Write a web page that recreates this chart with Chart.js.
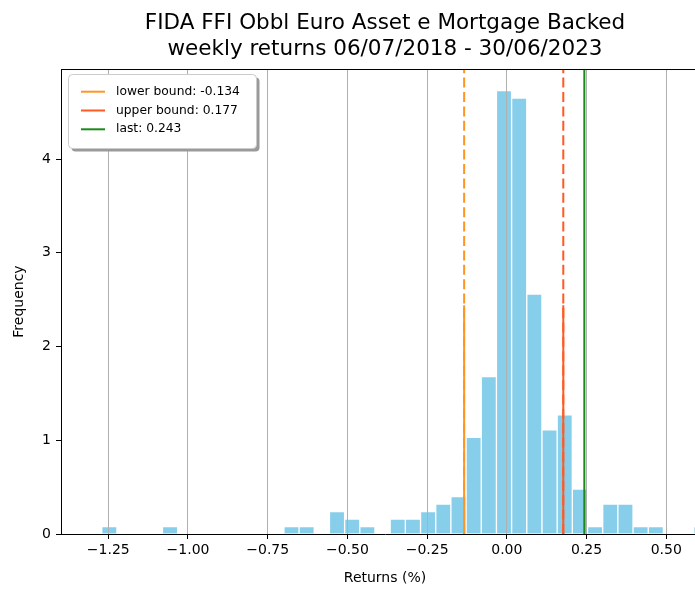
<!DOCTYPE html>
<html>
<head>
<meta charset="utf-8">
<script src="https://cdn.jsdelivr.net/npm/chart.js@4"></script>
<style>
html,body{margin:0;padding:0;overflow:hidden;background:#fff;width:695px;height:589px}
#wrap{width:770px;height:589px}
</style>
</head>
<body>
<div id="wrap"><canvas id="c" width="770" height="589"></canvas></div>
<script>
// ---- data ----
const binCenters = [
  -1.2467, -1.1991, -1.1515, -1.1039, -1.0563, -1.0087, -0.9611, -0.9135, -0.8659, -0.8182,
  -0.7706, -0.7230, -0.6754, -0.6278, -0.5802, -0.5326, -0.4850, -0.4374, -0.3898, -0.3421,
  -0.2945, -0.2469, -0.1993, -0.1517, -0.1041, -0.0565, -0.0089, 0.0387, 0.0863, 0.1340,
  0.1816, 0.2292, 0.2768, 0.3244, 0.3720, 0.4196, 0.4672, 0.5148, 0.5624, 0.6101
];
const frequency = [
  0.08, 0, 0, 0, 0.08, 0, 0, 0, 0, 0,
  0, 0, 0.08, 0.08, 0, 0.24, 0.16, 0.08, 0, 0.16,
  0.16, 0.24, 0.32, 0.40, 1.03, 1.68, 4.73, 4.65, 2.56, 1.11,
  1.27, 0.48, 0.08, 0.32, 0.32, 0.08, 0.08, 0, 0, 0.08
];
const xTickValues = [-1.25, -1.0, -0.75, -0.5, -0.25, 0, 0.25, 0.5];
const xTickLabels = ['\u22121.25', '\u22121.00', '\u22120.75', '\u22120.50', '\u22120.25', '0.00', '0.25', '0.50'];
const yTickValues = [0, 1, 2, 3, 4];
const yTickLabels = ['0', '1', '2', '3', '4'];
const lowerBound = -0.134;
const upperBound = 0.177;
const lastValue = 0.243;
const boundSolidTop = 2.44;
const xRange = [-1.3983, 0.634];
const yRange = [0, 4.96];
const legendLabels = ['lower bound: -0.134', 'upper bound: 0.177', 'last: 0.243'];
const titleLines = ['FIDA FFI Obbl Euro Asset e Mortgage Backed', 'weekly returns 06/07/2018 - 30/06/2023'];

// ---- styles ----
const C_BAR = '#87ceeb';
const C_LOW = '#ff9522';
const C_UP = '#ff5a24';
const C_LAST = '#1a8a1a';

Chart.defaults.font.family = "'DejaVu Sans', sans-serif";
Chart.defaults.color = '#000';

function vline(x, yTop, color, dash, label) {
  return {
    type: 'line',
    label: label || '',
    inLegend: !!label,
    data: [{x: x, y: 0}, {x: x, y: yTop}],
    borderColor: color,
    backgroundColor: color,
    borderWidth: 2,
    borderDash: dash || [],
    borderCapStyle: 'butt',
    pointRadius: 0,
    fill: false,
    order: 1
  };
}

const framePlugin = {
  id: 'frame',
  afterDraw(chart) {
    const ctx = chart.ctx, a = chart.chartArea;
    ctx.save();
    // top spine
    ctx.strokeStyle = '#000';
    ctx.lineWidth = 1;
    ctx.beginPath();
    ctx.moveTo(a.left, a.top + 0.5);
    ctx.lineTo(a.right, a.top + 0.5);
    ctx.stroke();
    // legend box
    const bx = 68.5, by = 74.5, bw = 188, bh = 74, r = 4;
    const rr = (x, y, w, h) => {
      ctx.beginPath();
      ctx.moveTo(x + r, y);
      ctx.arcTo(x + w, y, x + w, y + h, r);
      ctx.arcTo(x + w, y + h, x, y + h, r);
      ctx.arcTo(x, y + h, x, y, r);
      ctx.arcTo(x, y, x + w, y, r);
      ctx.closePath();
    };
    ctx.fillStyle = '#9a9a9a';
    rr(bx + 3, by + 3, bw, bh);
    ctx.fill();
    ctx.fillStyle = '#fff';
    rr(bx, by, bw, bh);
    ctx.fill();
    ctx.strokeStyle = '#cccccc';
    ctx.stroke();
    const items = chart.data.datasets.filter(d => d.inLegend);
    ctx.font = "12.3px 'DejaVu Sans'";
    ctx.textBaseline = 'middle';
    ctx.textAlign = 'left';
    items.forEach((d, i) => {
      const y = 91.7 + i * 18.8;
      ctx.strokeStyle = d.borderColor;
      ctx.lineWidth = 2;
      ctx.setLineDash([]);
      ctx.beginPath();
      ctx.moveTo(81, y);
      ctx.lineTo(105, y);
      ctx.stroke();
      ctx.fillStyle = '#000';
      ctx.fillText(d.label, 116, y);
    });
    ctx.restore();
  }
};

new Chart(document.getElementById('c'), {
  type: 'bar',
  data: {
    datasets: [
      vline(lowerBound, yRange[1], C_LOW, [10, 4.4]),
      vline(lowerBound, boundSolidTop, C_LOW, null, legendLabels[0]),
      vline(upperBound, yRange[1], C_UP, [10, 4.4]),
      vline(upperBound, boundSolidTop, C_UP, null, legendLabels[1]),
      vline(lastValue, yRange[1], C_LAST, null, legendLabels[2]),
      {
        type: 'bar',
        label: 'returns',
        inLegend: false,
        data: binCenters.map((x, i) => ({x: x, y: frequency[i]})),
        backgroundColor: C_BAR,
        borderColor: '#ffffff',
        borderWidth: 1,
        barPercentage: 1,
        categoryPercentage: 1,
        grouped: false,
        order: 10
      }
    ]
  },
  options: {
    responsive: false,
    animation: false,
    devicePixelRatio: 1,
    layout: {padding: 0},
    plugins: {
      legend: {display: false},
      tooltip: {enabled: false},
      title: {
        display: true,
        text: titleLines,
        color: '#000',
        font: {size: 21.5, weight: 'normal', lineHeight: 1.21},
        padding: {top: 10, bottom: 7}
      }
    },
    scales: {
      x: {
        type: 'linear',
        position: 'bottom',
        min: xRange[0],
        max: xRange[1],
        bounds: 'data',
        offset: false,
        afterBuildTicks: s => { s.ticks = xTickValues.map(v => ({value: v})); },
        afterFit: s => { s.height = 55; },
        ticks: {
          autoSkip: false,
          maxRotation: 0,
          padding: 3,
          font: {size: 14},
          color: '#000',
          callback: (v, i) => xTickLabels[i],
          z: 2
        },
        grid: {
          offset: false,
          color: '#b0b0b0',
          lineWidth: 1,
          drawTicks: true,
          tickLength: 5,
          tickColor: '#000',
          z: 1
        },
        border: {display: true, color: '#000', width: 1, z: 2},
        title: {display: true, text: 'Returns (%)', font: {size: 14}, color: '#000', padding: {top: 0, bottom: 2}}
      },
      y: {
        type: 'linear',
        position: 'left',
        min: yRange[0],
        max: yRange[1],
        bounds: 'data',
        afterBuildTicks: s => { s.ticks = yTickValues.map(v => ({value: v})); },
        afterFit: s => { s.width = 61; },
        ticks: {
          padding: 5,
          font: {size: 14},
          color: '#000',
          callback: (v, i) => yTickLabels[i],
          z: 2
        },
        grid: {
          drawOnChartArea: false,
          drawTicks: true,
          tickLength: 5,
          tickColor: '#000',
          z: 1
        },
        border: {display: true, color: '#000', width: 1, z: 2},
        title: {display: true, text: 'Frequency', font: {size: 14}, color: '#000', padding: {top: 11, bottom: 0}}
      },
      yRight: {
        type: 'linear',
        position: 'right',
        display: true,
        afterFit: s => { s.width = 61; },
        ticks: {display: false},
        grid: {display: false},
        border: {display: false}
      }
    }
  },
  plugins: [framePlugin]
});
</script>
</body>
</html>
